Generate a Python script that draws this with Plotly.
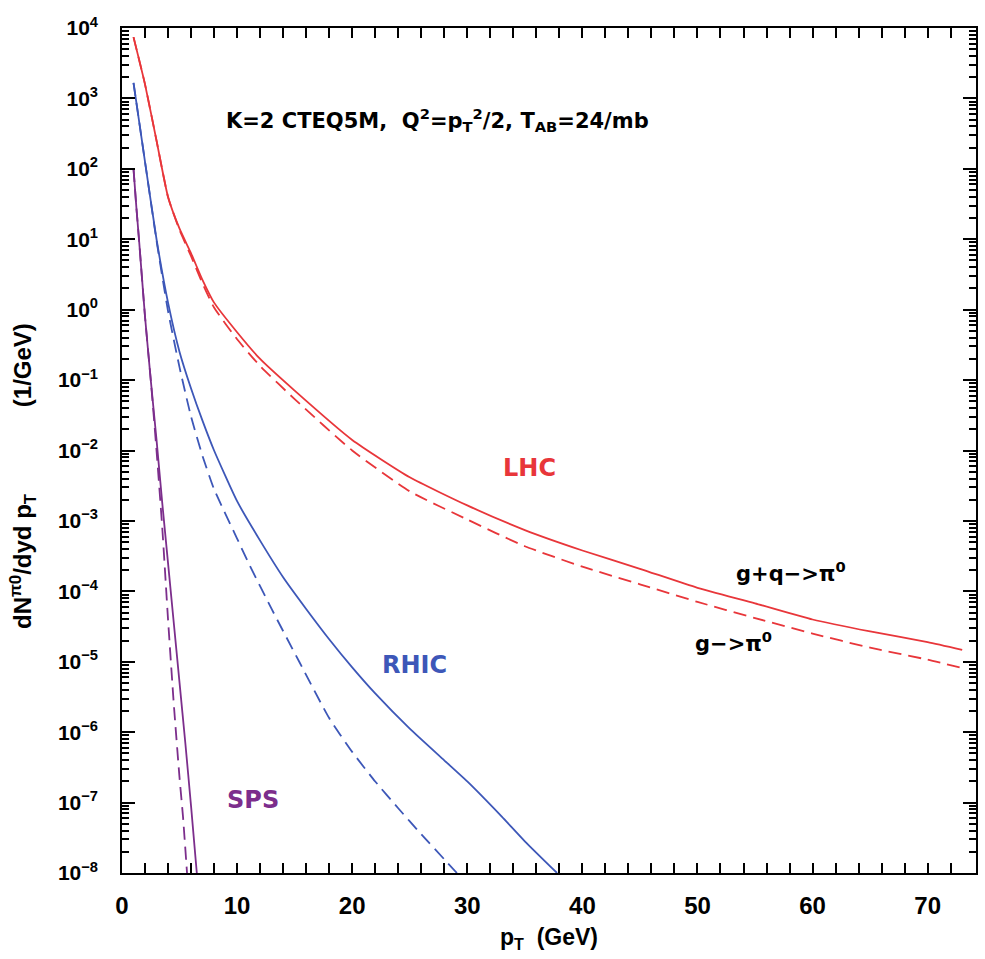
import numpy as np
import plotly.graph_objects as go

# pT grid (GeV) and log10 of dN/dy dpT (1/GeV) for each system / process
lhc_pt = [1, 2, 3, 4, 5, 6, 7, 8, 10, 12, 15, 20, 25, 30, 35, 40, 45, 50, 55, 60, 65, 70, 73]
lhc_all_log = [3.87, 3.2, 2.4, 1.6, 1.15, 0.8, 0.42, 0.1, -0.32, -0.7, -1.15, -1.85, -2.38,
               -2.78, -3.13, -3.42, -3.68, -3.95, -4.17, -4.4, -4.57, -4.72, -4.83]
lhc_g_log = [3.87, 3.2, 2.4, 1.6, 1.13, 0.76, 0.37, 0.03, -0.42, -0.8, -1.27, -2.0, -2.58,
             -2.98, -3.36, -3.65, -3.9, -4.15, -4.38, -4.6, -4.8, -4.97, -5.09]

rhic_all_pt = [1, 2, 3, 4, 5, 6, 7, 8, 10, 12, 14, 16, 18, 20, 22, 25, 28, 30, 33, 35, 37.8]
rhic_all_log = [3.22, 2.1, 1.0, 0.1, -0.6, -1.12, -1.58, -2.0, -2.72, -3.28, -3.8, -4.25,
                -4.68, -5.08, -5.45, -5.95, -6.4, -6.7, -7.2, -7.55, -8.0]
rhic_g_pt = [1, 2, 3, 4, 5, 6, 7, 8, 10, 11, 13, 15.4, 18, 20, 22, 24, 26, 29.1]
rhic_g_log = [3.22, 2.1, 0.98, -0.02, -0.82, -1.52, -2.08, -2.55, -3.25, -3.6, -4.25, -5.0,
              -5.8, -6.28, -6.7, -7.08, -7.45, -8.0]

sps_all_pt = [1, 1.25, 1.5, 2.0, 2.5, 3.0, 3.5, 4.0, 4.5, 5.0, 5.5, 6.0, 6.5]
sps_all_log = [2.0, 1.45, 0.95, -0.1, -1.0, -1.85, -2.75, -3.6, -4.45, -5.3, -6.15, -7.05, -8.0]
sps_g_pt = [1, 1.25, 1.5, 2.0, 2.5, 3.0, 3.5, 4.0, 4.5, 5.0, 5.3, 5.65]
sps_g_log = [2.0, 1.45, 0.95, -0.1, -1.0, -2.0, -3.1, -4.4, -5.6, -6.65, -7.2, -8.0]

decades = list(range(-8, 5))
x_ticks = list(range(0, 74, 2))
x_labels = [str(v) if v % 10 == 0 else "" for v in x_ticks]

RED = "#e8363a"
BLUE = "#3d57b8"
PURPLE = "#7c2e8c"
FONT = "Liberation Sans"
WIDE = "DejaVu Sans"

fig = go.Figure()


def add_curve(pt, logv, color, dashed):
    fig.add_trace(go.Scatter(
        x=pt, y=np.power(10.0, logv), mode="lines",
        line=dict(color=color, width=1.8, dash="13px,7px" if dashed else "solid",
                  shape="spline", smoothing=0.5),
        showlegend=False, hoverinfo="skip"))


add_curve(lhc_pt, lhc_all_log, RED, False)
add_curve(lhc_pt, lhc_g_log, RED, True)
add_curve(rhic_all_pt, rhic_all_log, BLUE, False)
add_curve(rhic_g_pt, rhic_g_log, BLUE, True)
add_curve(sps_all_pt, sps_all_log, PURPLE, False)
add_curve(sps_g_pt, sps_g_log, PURPLE, True)

ytext = [f"10<sup>{'−' + str(-d) if d < 0 else d}</sup>" for d in decades]

fig.update_xaxes(
    range=[0, 74.2], tickmode="array", tickvals=x_ticks, ticktext=x_labels,
    ticks="inside", ticklen=10, tickwidth=2, tickcolor="black",
    showline=True, linecolor="black", linewidth=1.6, mirror="ticks",
    showgrid=False, zeroline=False, ticklabelstandoff=10,
    tickfont=dict(family=FONT, size=24, color="black", weight="bold"),
)
fig.update_yaxes(
    type="log", range=[-8, 4], tickmode="array",
    tickvals=[10.0 ** d for d in decades], ticktext=ytext,
    ticks="inside", ticklen=13, tickwidth=2, tickcolor="black",
    minor=dict(ticks="inside", dtick="D1", ticklen=7, tickwidth=1.5, tickcolor="black"),
    showline=True, linecolor="black", linewidth=1.6, mirror="ticks",
    showgrid=False, zeroline=False, ticklabelstandoff=18,
    tickfont=dict(family=FONT, size=21, color="black", weight="bold"),
)


def note(text, x, y, color, size=20, xanchor="center", family=WIDE):
    fig.add_annotation(x=x, y=y, text=text, showarrow=False, xanchor=xanchor,
                       font=dict(family=family, size=size, color=color, weight="bold"))


note("K=2 CTEQ5M,  Q<sup>2</sup>=p<sub>T</sub><sup>2</sup>/2, T<sub>AB</sub>=24/mb",
     8.9, 2.69, "black", size=21, xanchor="left")
note("LHC", 35.4, -2.25, RED, size=24)
note("RHIC", 25.4, -5.05, BLUE, size=24)
note("SPS", 11.35, -6.97, PURPLE, size=24)
note("g+q−>π<sup>0</sup>", 58.1, -3.72, "black", size=21)
note("g−>π<sup>0</sup>", 53.1, -4.72, "black", size=21)

# axis titles
fig.add_annotation(
    xref="paper", yref="paper", x=0.5, y=-0.078, yanchor="middle", showarrow=False,
    text="p<sub>T</sub>  (GeV)",
    font=dict(family=FONT, size=23, color="black", weight="bold"))
fig.add_annotation(
    xref="paper", yref="paper", x=-0.138, y=0.47, textangle=-90, showarrow=False,
    text="dN<sup>π0</sup>/dyd p<sub>T</sub>             (1/GeV)",
    font=dict(family=FONT, size=24, color="black", weight="bold"))

fig.update_layout(
    width=985, height=959,
    margin=dict(l=122, r=7, t=28, b=86),
    paper_bgcolor="white", plot_bgcolor="white",
)

fig.write_html("out.html")
